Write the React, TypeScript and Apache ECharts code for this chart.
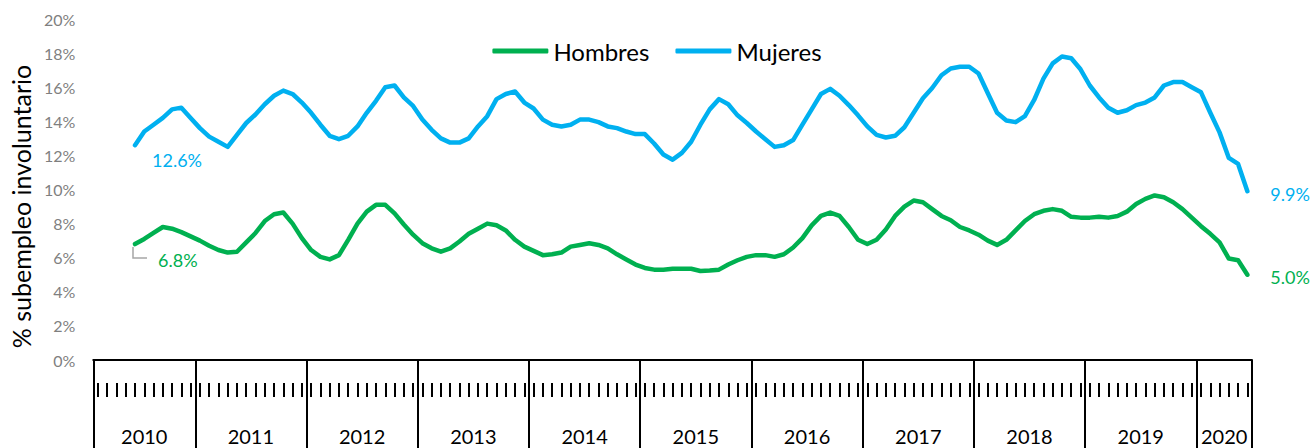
import React, { useEffect, useRef } from 'react';
import * as echarts from 'echarts';

// Years on the axis, how many monthly points each holds and its first month
const years = ['2010', '2011', '2012', '2013', '2014', '2015', '2016', '2017', '2018', '2019', '2020'];
const monthsPerYear = [11, 12, 12, 12, 12, 12, 12, 12, 12, 12, 6];
const firstMonth = [2, 1, 1, 1, 1, 1, 1, 1, 1, 1, 1];

// % subempleo involuntario (monthly)
const hombres: (number | null)[] = [
  null, null, null, null, 6.8, 7.1, 7.45, 7.8, 7.7, 7.5, 7.25,
  7.0, 6.7, 6.45, 6.3, 6.35, 6.9, 7.45, 8.15, 8.55, 8.65, 8.0, 7.15,
  6.45, 6.05, 5.9, 6.15, 7.05, 8.0, 8.7, 9.1, 9.1, 8.6, 7.95, 7.35,
  6.85, 6.55, 6.35, 6.55, 6.95, 7.4, 7.7, 8.0, 7.9, 7.6, 7.05, 6.65,
  6.4, 6.15, 6.2, 6.3, 6.65, 6.75, 6.85, 6.75, 6.55, 6.2, 5.9, 5.6,
  5.4, 5.3, 5.3, 5.35, 5.35, 5.35, 5.22, 5.25, 5.3, 5.6, 5.85, 6.05,
  6.15, 6.15, 6.05, 6.2, 6.6, 7.15, 7.9, 8.45, 8.65, 8.45, 7.8, 7.05,
  6.8, 7.05, 7.65, 8.45, 9.0, 9.35, 9.25, 8.85, 8.45, 8.2, 7.8, 7.6,
  7.35, 7.0, 6.75, 7.05, 7.6, 8.15, 8.55, 8.75, 8.85, 8.75, 8.4, 8.35,
  8.35, 8.4, 8.35, 8.45, 8.7, 9.15, 9.45, 9.65, 9.55, 9.25, 8.85, 8.35,
  7.85, 7.4, 6.9, 5.95, 5.85, 5.0,
];
const mujeres: (number | null)[] = [
  null, null, null, null, 12.6, 13.4, 13.8, 14.2, 14.7, 14.8, 14.2,
  13.6, 13.1, 12.8, 12.5, 13.2, 13.9, 14.4, 15.0, 15.5, 15.8, 15.6, 15.1,
  14.5, 13.8, 13.15, 12.95, 13.15, 13.7, 14.5, 15.2, 16.0, 16.1, 15.4, 14.9,
  14.1, 13.5, 13.0, 12.75, 12.75, 13.0, 13.7, 14.3, 15.3, 15.6, 15.75, 15.1,
  14.75, 14.1, 13.8, 13.7, 13.8, 14.1, 14.1, 13.95, 13.7, 13.6, 13.4, 13.25,
  13.25, 12.7, 12.05, 11.75, 12.15, 12.8, 13.8, 14.7, 15.3, 15.0, 14.35, 13.9,
  13.4, 12.95, 12.5, 12.6, 12.9, 13.8, 14.7, 15.6, 15.9, 15.5, 14.95, 14.35,
  13.7, 13.2, 13.05, 13.15, 13.65, 14.5, 15.35, 15.95, 16.7, 17.1, 17.2, 17.2,
  16.8, 15.65, 14.5, 14.05, 13.95, 14.3, 15.25, 16.5, 17.4, 17.8, 17.7, 17.05,
  16.1, 15.4, 14.8, 14.5, 14.65, 14.95, 15.1, 15.4, 16.1, 16.3, 16.3, 16.0,
  15.7, 14.5, 13.35, 11.85, 11.5, 9.9,
];

const seriesNames = ['Hombres', 'Mujeres'];
const seriesColors = ['#00B050', '#00B0F0'];
const yAxisTitle = '% subempleo involuntario';

// derived: month categories, year boundaries and year mid points
const categories: string[] = [];
years.forEach((y, k) => {
  for (let m = 0; m < monthsPerYear[k]; m++) {
    categories.push(`${y}-${String(firstMonth[k] + m).padStart(2, '0')}`);
  }
});
const boundaries: number[] = [0];
monthsPerYear.forEach((n) => boundaries.push(boundaries[boundaries.length - 1] + n));
const mids = years.map((_, k) => boundaries[k] + monthsPerYear[k] / 2);

const FONT = 'Lato';

function withEndLabels(values: (number | null)[], color: string, firstOffset: number[], lastOffset: number[]) {
  const firstIdx = values.findIndex((v) => v !== null);
  const lastIdx = values.length - 1;
  return values.map((v, i) => {
    if (i === firstIdx || i === lastIdx) {
      return {
        value: v,
        label: {
          show: true,
          position: 'right',
          distance: 5,
          offset: i === firstIdx ? firstOffset : lastOffset,
          color,
          fontSize: 18,
          fontFamily: FONT,
          formatter: (p: any) => `${Number(p.value).toFixed(1)}%`,
        },
      };
    }
    return v;
  });
}

export default function App() {
  const ref = useRef<HTMLDivElement>(null);
  useEffect(() => {
    document.body.style.margin = '0';
    const chart = echarts.init(ref.current!, null, { renderer: 'svg' });
    const hFirst = hombres.findIndex((v) => v !== null);
    chart.setOption({
      animation: false,
      textStyle: { fontFamily: FONT },
      grid: { left: 93, right: 62, top: 19, bottom: 88 },
      legend: {
        data: seriesNames,
        left: 'center',
        top: 34,
        icon: 'roundRect',
        itemWidth: 56,
        itemHeight: 5,
        itemGap: 26,
        textStyle: { fontSize: 24, color: '#000', fontFamily: FONT },
      },
      xAxis: [
        {
          type: 'category',
          data: categories,
          boundaryGap: true,
          position: 'bottom',
          offset: 23,
          axisLine: { show: false, onZero: false },
          axisTick: { show: true, alignWithLabel: true, interval: 0, length: 14, lineStyle: { color: '#000', width: 2 } },
          axisLabel: { show: false },
          splitLine: { show: false },
        },
        {
          type: 'value',
          min: 0,
          max: boundaries[boundaries.length - 1],
          position: 'bottom',
          offset: 0,
          axisLine: { show: true, onZero: false, lineStyle: { color: '#000', width: 2 } },
          axisTick: { show: true, customValues: boundaries, length: 90, lineStyle: { color: '#000', width: 2 } },
          axisLabel: {
            show: true,
            customValues: mids,
            margin: 66,
            fontSize: 20,
            color: '#000',
            fontFamily: FONT,
            formatter: (v: number) => {
              const k = mids.findIndex((m) => Math.abs(m - v) < 1e-6);
              return k >= 0 ? years[k] : '';
            },
          },
          splitLine: { show: false },
        },
      ],
      yAxis: {
        type: 'value',
        min: 0,
        max: 20,
        interval: 2,
        name: yAxisTitle,
        nameLocation: 'middle',
        nameGap: 57,
        nameTextStyle: { fontSize: 25, color: '#000', fontFamily: FONT, padding: [0, 34, 0, 0] },
        axisLine: { show: false },
        axisTick: { show: false },
        splitLine: { show: false },
        axisLabel: { formatter: '{value}%', color: '#7F7F7F', fontSize: 16, margin: 18, fontFamily: FONT },
      },
      series: [
        {
          type: 'custom',
          name: 'leader',
          xAxisIndex: 0,
          data: [[hFirst, hombres[hFirst]]],
          renderItem: (params: any, api: any) => {
            const p = api.coord([api.value(0), api.value(1)]);
            return {
              type: 'polyline',
              shape: { points: [[p[0] - 2, p[1] + 3], [p[0] - 2, p[1] + 14], [p[0] + 12, p[1] + 14]] },
              style: { stroke: '#A6A6A6', lineWidth: 1.5, fill: null },
            };
          },
          silent: true,
          z: 1,
        },
        {
          type: 'line',
          name: seriesNames[0],
          xAxisIndex: 0,
          data: withEndLabels(hombres, seriesColors[0], [18, 16], [18, 2]),
          showSymbol: true,
          showAllSymbol: true,
          symbol: 'circle',
          symbolSize: 0,
          color: seriesColors[0],
          lineStyle: { width: 4.5, color: seriesColors[0], cap: 'round', join: 'round' },
          z: 3,
        },
        {
          type: 'line',
          name: seriesNames[1],
          xAxisIndex: 0,
          data: withEndLabels(mujeres, seriesColors[1], [12, 15], [18, 3]),
          showSymbol: true,
          showAllSymbol: true,
          symbol: 'circle',
          symbolSize: 0,
          color: seriesColors[1],
          lineStyle: { width: 4.5, color: seriesColors[1], cap: 'round', join: 'round' },
          z: 3,
        },
      ],
    });
    return () => chart.dispose();
  }, []);
  return <div ref={ref} style={{ position: 'absolute', left: 0, top: 0, width: 1314, height: 448 }} />;
}
